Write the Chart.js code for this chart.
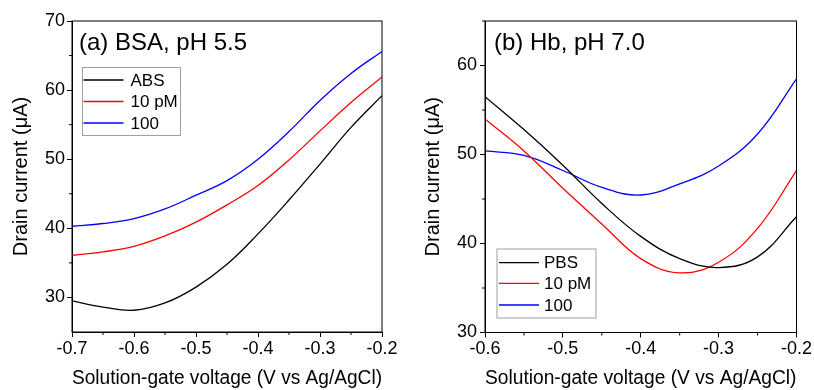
<!DOCTYPE html>
<html>
<head>
<meta charset="utf-8">
<script src="https://cdn.jsdelivr.net/npm/chart.js@4"></script>
<style>
  html, body { margin: 0; padding: 0; background: #fff; }
  #wrap { position: relative; width: 814px; height: 390px; }
  .panel { position: absolute; top: 0; }
</style>
</head>
<body>
<div id="wrap">
  <canvas id="chartA" class="panel" style="left:0" width="407" height="390"></canvas>
  <canvas id="chartB" class="panel" style="left:407px" width="407" height="390"></canvas>
</div>
<script>
// (a) BSA, pH 5.5
const voltageA = [-0.7, -0.65, -0.6, -0.55, -0.5, -0.45, -0.4, -0.35, -0.3, -0.25, -0.2];
const absA = [29.5, 28.6, 28.15, 29.2, 31.5, 34.8, 39.2, 44.1, 49.3, 54.6, 59.2];
const tenPmA = [36.1, 36.6, 37.4, 38.9, 40.9, 43.4, 46.2, 49.9, 54.1, 58.2, 61.9];
const hundredA = [40.3, 40.7, 41.4, 42.8, 44.8, 46.9, 50.0, 54.0, 58.5, 62.4, 65.6];
const xTicksA = [-0.7, -0.6, -0.5, -0.4, -0.3, -0.2];
const xMinorA = [-0.65, -0.55, -0.45, -0.35, -0.25];
const yTicksA = [30, 40, 50, 60, 70];
const yMinorA = [35, 45, 55, 65];

// (b) Hb, pH 7.0
const voltageB = [-0.6, -0.55, -0.5, -0.45, -0.4, -0.35, -0.3, -0.25, -0.2];
const pbsB = [56.5, 52.8, 48.8, 44.5, 40.8, 38.3, 37.3, 38.5, 43.0];
const tenPmB = [54.0, 50.4, 46.2, 42.2, 38.3, 36.7, 37.9, 41.7, 48.2];
const hundredB = [50.4, 49.9, 48.2, 46.3, 45.45, 46.7, 48.7, 52.3, 58.5];
const xTicksB = [-0.6, -0.5, -0.4, -0.3, -0.2];
const xMinorB = [-0.55, -0.45, -0.35, -0.25];
const yTicksB = [30, 40, 50, 60];
const yMinorB = [35, 45, 55, 65];

const FONT = '"Liberation Sans", Arial, Helvetica, sans-serif';
Chart.defaults.font.family = FONT;
Chart.defaults.color = '#000';

function pts(xs, ys) {
  return xs.map((x, i) => ({ x, y: ys[i] }));
}

function line(label, xs, ys, color) {
  return {
    label,
    data: pts(xs, ys),
    borderColor: color,
    borderWidth: 1.3,
    pointRadius: 0,
    tension: 0.4,
    fill: false
  };
}

// frame, minor ticks, panel label and boxed legend
const decor = {
  id: 'decor',
  afterDraw(chart, args, o) {
    const { ctx, chartArea: a, scales: { x, y } } = chart;
    ctx.save();
    ctx.strokeStyle = '#000';
    ctx.lineWidth = 1;
    ctx.strokeRect(a.left, a.top, a.right - a.left, a.bottom - a.top);

    ctx.beginPath();
    o.xMinor.forEach(v => {
      const px = x.getPixelForValue(v);
      ctx.moveTo(px, a.bottom);
      ctx.lineTo(px, a.bottom + 3);
    });
    o.yMinor.forEach(v => {
      const py = y.getPixelForValue(v);
      ctx.moveTo(a.left, py);
      ctx.lineTo(a.left - 3, py);
    });
    ctx.stroke();

    ctx.fillStyle = '#000';
    ctx.font = '24px ' + FONT;
    ctx.textBaseline = 'alphabetic';
    ctx.fillText(o.label, a.left + o.labelX, a.top + o.labelY);

    const L = o.legend;
    const bx = a.left + L.x, by = a.top + L.y;
    ctx.strokeStyle = '#a0a0a0';
    ctx.strokeRect(bx, by, L.w, L.h);
    ctx.font = '17px ' + FONT;
    ctx.textBaseline = 'middle';
    chart.data.datasets.forEach((ds, i) => {
      const ry = by + L.rows[i];
      ctx.strokeStyle = ds.borderColor;
      ctx.lineWidth = 1.3;
      ctx.beginPath();
      ctx.moveTo(bx + L.x0, ry);
      ctx.lineTo(bx + L.x1, ry);
      ctx.stroke();
      ctx.fillText(ds.label, bx + L.tx, ry + 1);
    });
    ctx.restore();
  }
};

function makeChart(id, cfg) {
  return new Chart(document.getElementById(id), {
    type: 'line',
    data: { datasets: cfg.datasets },
    options: {
      responsive: false,
      animation: false,
      layout: { padding: { top: 21, right: cfg.padRight, left: 0, bottom: 0 } },
      plugins: {
        legend: { display: false },
        tooltip: { enabled: false },
        decor: cfg.decor
      },
      scales: {
        x: {
          type: 'linear',
          min: cfg.xMin,
          max: cfg.xMax,
          afterBuildTicks: s => { s.ticks = cfg.xTicks.map(v => ({ value: v })); },
          afterFit: s => { s.height = cfg.xHeight; },
          ticks: { font: { size: 18 }, padding: 1, maxRotation: 0, callback: v => v.toFixed(1) },
          grid: { drawOnChartArea: false, drawTicks: true, tickLength: 5, color: '#000' },
          border: { color: '#000' },
          title: {
            display: true,
            text: 'Solution-gate voltage (V vs Ag/AgCl)',
            font: { size: 20 },
            padding: { top: 0, bottom: 0 }
          }
        },
        y: {
          min: cfg.yMin,
          max: cfg.yMax,
          afterBuildTicks: s => { s.ticks = cfg.yTicks.map(v => ({ value: v })); },
          afterFit: s => { s.width = cfg.yWidth; },
          ticks: { font: { size: 18 }, padding: cfg.yPad },
          grid: { drawOnChartArea: false, drawTicks: true, tickLength: 5, color: '#000' },
          border: { color: '#000' },
          title: {
            display: true,
            text: 'Drain current (\u03bcA)',
            font: { size: 20 },
            padding: { top: cfg.yTitlePad, bottom: 0 }
          }
        }
      }
    },
    plugins: [decor]
  });
}

makeChart('chartA', {
  datasets: [
    line('ABS', voltageA, absA, '#000000'),
    line('10 pM', voltageA, tenPmA, '#ff0000'),
    line('100', voltageA, hundredA, '#0000ff')
  ],
  xMin: -0.7, xMax: -0.2, xTicks: xTicksA,
  yMin: 25, yMax: 70, yTicks: yTicksA,
  yWidth: 72, xHeight: 58, padRight: 25, yPad: 2, yTitlePad: 9,
  decor: {
    xMinor: xMinorA, yMinor: yMinorA,
    label: '(a) BSA, pH 5.5', labelX: 7, labelY: 29,
    legend: { x: 10.5, y: 46.5, w: 98, h: 68, x0: 1, x1: 41, tx: 48, rows: [12.5, 34, 55.5] }
  }
});

makeChart('chartB', {
  datasets: [
    line('PBS', voltageB, pbsB, '#000000'),
    line('10 pM', voltageB, tenPmB, '#ff0000'),
    line('100', voltageB, hundredB, '#0000ff')
  ],
  xMin: -0.6, xMax: -0.2, xTicks: xTicksB,
  yMin: 30, yMax: 65, yTicks: yTicksB,
  yWidth: 78, xHeight: 57.5, padRight: 17.5, yPad: 3, yTitlePad: 14.5,
  decor: {
    xMinor: xMinorB, yMinor: yMinorB,
    label: '(b) Hb, pH 7.0', labelX: 9, labelY: 29,
    legend: { x: 12, y: 228, w: 99, h: 69, x0: 2, x1: 42, tx: 47, rows: [13.7, 34.3, 56] }
  }
});
</script>
</body>
</html>
